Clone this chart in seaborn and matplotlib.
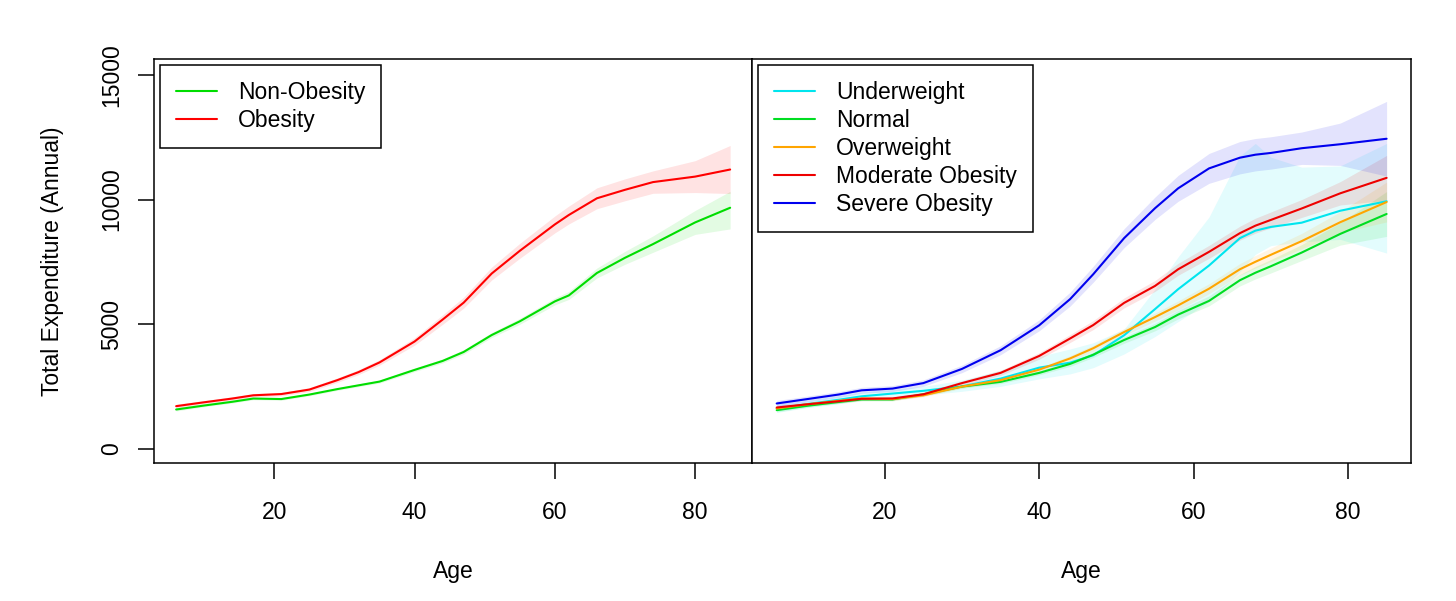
import numpy as np
import pandas as pd
import matplotlib
matplotlib.use("Agg")
import matplotlib.pyplot as plt
import seaborn as sns

# ---------------- data ----------------
AGE_L = [6, 10, 14, 17, 21, 25, 29, 32, 35, 40, 44, 47, 51, 55, 60, 62, 66, 70, 74, 80, 85]
NONOB = [1570, 1730, 1880, 2010, 1990, 2170, 2390, 2540, 2690, 3160, 3520, 3880, 4560, 5110, 5910, 6150, 7050, 7660, 8210, 9080, 9670]
NONOB_LO = [1510, 1680, 1830, 1960, 1940, 2120, 2340, 2485, 2630, 3090, 3440, 3790, 4460, 4990, 5770, 5990, 6850, 7400, 7880, 8600, 8820]
NONOB_HI = [1630, 1780, 1930, 2060, 2040, 2220, 2440, 2595, 2750, 3230, 3600, 3970, 4660, 5230, 6050, 6310, 7250, 7920, 8540, 9560, 10330]
OB = [1704, 1860, 2010, 2140, 2190, 2370, 2750, 3070, 3460, 4300, 5180, 5860, 7030, 7940, 9000, 9380, 10050, 10390, 10700, 10920, 11205]
OB_LO = [1624, 1790, 1940, 2070, 2120, 2290, 2660, 2970, 3350, 4150, 4990, 5640, 6770, 7640, 8660, 9020, 9630, 9950, 10250, 10280, 10240]
OB_HI = [1784, 1930, 2080, 2210, 2260, 2450, 2840, 3170, 3570, 4450, 5370, 6080, 7290, 8240, 9340, 9740, 10470, 10830, 11150, 11560, 12170]

AGE_R = [6, 10, 14, 17, 21, 25, 30, 35, 40, 44, 47, 51, 55, 58, 62, 66, 68, 70, 74, 79, 85]
UNDER = [1610, 1790, 1960, 2100, 2210, 2320, 2500, 2810, 3250, 3450, 3750, 4550, 5600, 6400, 7350, 8450, 8750, 8900, 9070, 9550, 9930]
UNDER_LO = [1450, 1650, 1800, 1950, 2050, 2150, 2300, 2500, 2800, 3000, 3250, 3800, 4500, 5100, 5900, 7100, 7800, 8150, 8300, 8400, 7850]
UNDER_HI = [1780, 1950, 2120, 2270, 2380, 2500, 2750, 3150, 3700, 4000, 4250, 4800, 6400, 7700, 9300, 11750, 12250, 11700, 11300, 11350, 12250]
NORMAL = [1543, 1720, 1870, 1973, 1973, 2180, 2490, 2680, 3040, 3400, 3770, 4360, 4880, 5380, 5930, 6760, 7060, 7320, 7870, 8620, 9420]
NORMAL_HW = [70, 60, 60, 60, 60, 60, 60, 70, 80, 100, 110, 130, 150, 170, 200, 230, 250, 270, 320, 450, 900]
OVER = [1610, 1780, 1920, 2013, 1990, 2140, 2490, 2750, 3170, 3620, 4030, 4680, 5280, 5750, 6420, 7200, 7500, 7780, 8330, 9090, 9900]
OVER_HW = [70, 60, 60, 60, 60, 60, 70, 80, 90, 110, 120, 140, 160, 180, 200, 230, 250, 270, 310, 420, 800]
MOD = [1650, 1780, 1900, 2000, 2013, 2180, 2630, 3040, 3720, 4420, 4960, 5850, 6530, 7200, 7900, 8650, 8950, 9180, 9640, 10250, 10870]
MOD_HW = [80, 70, 70, 70, 70, 80, 90, 100, 130, 160, 180, 200, 220, 240, 260, 280, 300, 320, 360, 470, 900]
SEV = [1812, 1990, 2170, 2340, 2410, 2630, 3200, 3950, 4950, 6000, 7000, 8450, 9650, 10450, 11250, 11680, 11800, 11870, 12060, 12220, 12440]
SEV_HW = [120, 120, 120, 120, 120, 130, 150, 180, 220, 280, 320, 380, 450, 520, 600, 650, 650, 650, 650, 850, 1500]

LEFT_GROUPS = ["Non-Obesity", "Obesity"]
RIGHT_GROUPS = ["Underweight", "Normal", "Overweight", "Moderate Obesity", "Severe Obesity"]
Y_TICKS = [0, 5000, 10000, 15000]
X_TICKS = [20, 40, 60, 80]

COLORS = {
    "Non-Obesity": "#00DD00", "Obesity": "#FF0000",
    "Underweight": "#00E5EE", "Normal": "#00DD22", "Overweight": "#FFA500",
    "Moderate Obesity": "#EE0000", "Severe Obesity": "#0000EE",
}

# ---------------- tables ----------------
def hw_band(v, h):
    v = np.array(v, float); h = np.array(h, float)
    return v - h, v + h

left_series = {
    "Non-Obesity": (NONOB, NONOB_LO, NONOB_HI),
    "Obesity": (OB, OB_LO, OB_HI),
}
right_series = {
    "Underweight": (UNDER, UNDER_LO, UNDER_HI),
    "Normal": (NORMAL, *hw_band(NORMAL, NORMAL_HW)),
    "Overweight": (OVER, *hw_band(OVER, OVER_HW)),
    "Moderate Obesity": (MOD, *hw_band(MOD, MOD_HW)),
    "Severe Obesity": (SEV, *hw_band(SEV, SEV_HW)),
}

def long_df(ages, series):
    rows = []
    for g, (v, lo, hi) in series.items():
        for a, y, l, u in zip(ages, v, lo, hi):
            rows.append({"Age": a, "Exp": y, "lo": l, "hi": u, "group": g})
    return pd.DataFrame(rows)

dfL = long_df(AGE_L, left_series)
dfR = long_df(AGE_R, right_series)

# ---------------- style ----------------
sns.set_theme(style="white")
plt.rcParams["font.family"] = ["Liberation Sans", "DejaVu Sans"]
for k in ["text.color", "axes.labelcolor", "xtick.color", "ytick.color", "axes.edgecolor"]:
    plt.rcParams[k] = "black"
FS = 16.5

fig = plt.figure(figsize=(14.56, 6.01), dpi=100)
W, H = 1456, 601
bottom = 1 - 463.3 / H
height = (463.3 - 59.3) / H
axL = fig.add_axes([154 / W, bottom, (752.3 - 154) / W, height])
axR = fig.add_axes([752.3 / W, bottom, (1411 - 752.3) / W, height])

def draw(ax, df, groups):
    for g in groups:
        sub = df[df.group == g]
        ax.fill_between(sub["Age"], sub["lo"], sub["hi"], color=COLORS[g],
                        alpha=0.11, linewidth=0, zorder=1)
    sns.lineplot(data=df, x="Age", y="Exp", hue="group", hue_order=groups,
                 palette=COLORS, ax=ax, legend=False, linewidth=1.5,
                 errorbar=None, sort=True, zorder=3)
    ax.set_xlim(2.84, 88.16)
    ax.set_ylim(-590, 15630)
    ax.set_xticks(X_TICKS)
    ax.set_xlabel("")
    ax.set_ylabel("")
    for s in ax.spines.values():
        s.set_color("black")
        s.set_linewidth(1.1)
    ax.tick_params(axis="x", direction="out", length=11.5, width=1.1,
                   color="black", labelcolor="black", pad=16, labelsize=FS, bottom=True)
    leg = ax.legend(handles=ax.get_lines()[:len(groups)], labels=groups,
                    loc="upper left", fontsize=FS, frameon=True, fancybox=False,
                    edgecolor="black", framealpha=1, borderpad=0.7,
                    labelspacing=0.22, handlelength=1.8, handletextpad=0.9,
                    borderaxespad=0.25)
    leg.get_frame().set_linewidth(1.1)
    for t in leg.get_texts():
        t.set_color("black")
    for l in leg.get_lines():
        l.set_linewidth(1.5)

draw(axL, dfL, LEFT_GROUPS)
draw(axR, dfR, RIGHT_GROUPS)

axL.set_yticks(Y_TICKS)
axL.set_yticklabels([str(t) for t in Y_TICKS], rotation=90, va="center")
axL.tick_params(axis="y", direction="out", length=11.5, width=1.1,
                color="black", labelcolor="black", pad=11, labelsize=FS, left=True)
axR.set_yticks(Y_TICKS)
axR.tick_params(axis="y", left=False, labelleft=False)

fig.text(52.5 / W, 1 - 261 / H, "Total Expenditure (Annual)", rotation=90,
         ha="center", va="center", fontsize=FS, color="black")
fig.text(453 / W, 1 - 578.3 / H, "Age", ha="center", va="baseline", fontsize=FS, color="black")
fig.text(1081.7 / W, 1 - 578.3 / H, "Age", ha="center", va="baseline", fontsize=FS, color="black")

fig.savefig("out.png", dpi=100)
